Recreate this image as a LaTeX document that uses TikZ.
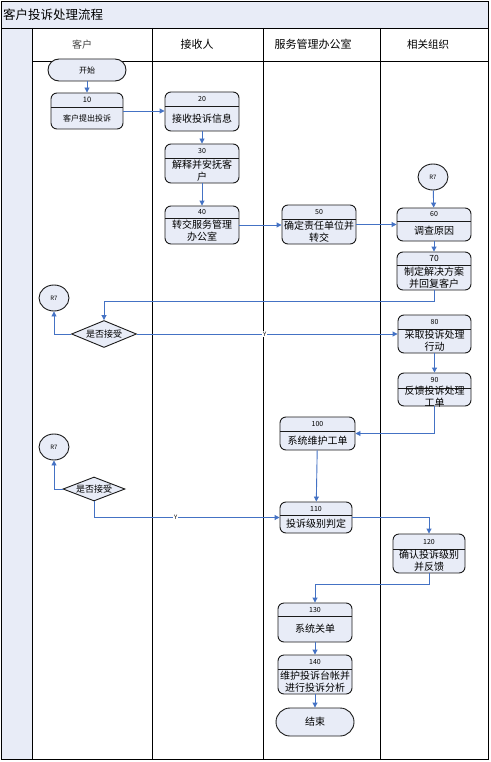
\documentclass[tikz,border=0pt]{standalone}
\usepackage{fontspec}
\setmainfont{Noto Sans CJK SC}
\usetikzlibrary{shapes.geometric,arrows.meta,calc}
\definecolor{lav}{HTML}{E8ECF7}
\definecolor{flow}{HTML}{4472C4}
\definecolor{edgec}{HTML}{1A1A1A}
\tikzset{
  proc/.style={draw=edgec, fill=lav, rounded corners=6pt, line width=0.9pt, inner sep=0pt},
  term/.style={draw=edgec, fill=lav, line width=0.9pt, inner sep=0pt},
  numtxt/.style={font=\fontsize{7}{8}\selectfont, inner sep=0pt},
  bodytxt/.style={font=\fontsize{10}{12}\selectfont, align=center, inner sep=0pt},
  smalltxt/.style={font=\fontsize{6}{7}\selectfont, inner sep=0pt},
  hdr/.style={font=\fontsize{11}{12}\selectfont, inner sep=0pt},
  flowarrow/.style={draw=flow, line width=0.9pt, -{Triangle[length=5pt,width=5pt]}},
  ylabel/.style={font=\fontsize{6}{7}\selectfont, fill=white, inner sep=1pt},
  frameline/.style={draw=black, line width=0.9pt},
  connector/.style={ellipse, draw=edgec, fill=lav, line width=0.9pt, minimum width=30pt, minimum height=26pt, inner sep=0pt, font=\fontsize{6}{7}\selectfont},
  decision/.style={diamond, draw=edgec, fill=lav, line width=0.9pt, inner sep=0pt},
}
% name, x1, y1, x2, y2, ydiv, number, text
\newcommand\procbox[8]{%
  \node[proc, minimum width={#4-#2}, minimum height={#5-#3}] (#1) at ({(#2+#4)/2},{(#3+#5)/2}) {};
  \draw[edgec, line width=0.7pt] (#2,#6) -- (#4,#6);
  \node[numtxt] (#1num) at ({(#2+#4)/2},{(#3+#6)/2}) {#7};
  \node[bodytxt] (#1txt) at ({(#2+#4)/2},{(#6+#5)/2}) {#8};
}
\begin{document}
\begin{tikzpicture}[x=1pt,y=-1pt]
\useasboundingbox (0,0) rectangle (490,762);
% frame
\fill[lav] (1,1) rectangle (488,28);
\fill[lav] (1,28) rectangle (32,759);
\draw[frameline] (1,1) rectangle (488,759);
\draw[frameline] (1,28) -- (488,28);
\draw[frameline] (32,61) -- (488,61);
\draw[frameline] (32,28) -- (32,759);
\draw[frameline] (152,28) -- (152,759);
\draw[frameline] (263,28) -- (263,759);
\draw[frameline] (380,28) -- (380,759);
\node[font=\fontsize{12.5}{13}\selectfont, anchor=west, inner sep=0pt] (title) at (3,15) {客户投诉处理流程};
\node[hdr, font=\fontsize{10}{11}\selectfont, text=black!75] (h1) at (82,45) {客户};
\node[hdr] (h2) at (197,44) {接收人};
\node[hdr] (h3) at (313,44) {服务管理办公室};
\node[hdr, font=\fontsize{10.5}{11}\selectfont] (h4) at (428,45) {相关组织};

% nodes
\node[term, rounded corners=11pt, minimum width=78pt, minimum height=22pt, font=\fontsize{8}{9}\selectfont] (start) at (87,70) {开始};
\procbox{n10}{51}{93}{123}{129}{107}{\fontsize{7.5}{8}\selectfont 10}{\fontsize{8}{9}\selectfont 客户提出投诉}
\procbox{n20}{165}{92}{239}{131}{106}{20}{接收投诉信息}
\procbox{n30}{165}{144}{239}{183}{158}{30}{解释并安抚客\\户}
\procbox{n40}{165}{206}{239}{244}{218}{40}{转交服务管理\\办公室}
\procbox{n50}{282}{205}{356}{244}{219}{50}{确定责任单位并\\转交}
\node[connector] (r7a) at (433,177) {R7};
\procbox{n60}{397}{208}{471}{241}{221}{60}{调查原因}
\procbox{n70}{397}{252}{471}{290}{265}{\fontsize{8.5}{9}\selectfont 70}{制定解决方案\\并回复客户}
\node[connector] (r7b) at (54,298) {R7};
\node[decision, minimum width=65pt, minimum height=27pt] (d1) at (104,334) {};
\node[font=\fontsize{9}{10}\selectfont, inner sep=0pt] (d1t) at (d1) {是否接受};
\procbox{n80}{398}{315}{471}{353}{329}{80}{采取投诉处理\\行动}
\procbox{n90}{398}{373}{471}{406}{388}{90}{反馈投诉处理\\工单}
\procbox{n100}{280}{417}{355}{450}{431}{100}{系统维护工单}
\node[connector] (r7c) at (54,447) {R7};
\node[decision, minimum width=62pt, minimum height=24pt] (d2) at (94,489) {};
\node[font=\fontsize{9}{10}\selectfont, inner sep=0pt] (d2t) at (d2) {是否接受};
\procbox{n110}{280}{502}{352}{533}{515}{110}{投诉级别判定}
\procbox{n120}{393}{534}{465}{573}{549}{120}{确认投诉级别\\并反馈}
\procbox{n130}{278}{603}{352}{642}{616}{130}{系统关单}
\procbox{n140}{278}{655}{352}{694}{669}{140}{维护投诉台帐并\\进行投诉分析}
\node[term, rounded corners=14pt, minimum width=78pt, minimum height=28pt, font=\fontsize{10}{11}\selectfont] (stop) at (315,722) {结束};

% connectors
\coordinate (c70a) at (434,301);
\coordinate (c70b) at (104,301);
\coordinate (c120a) at (429,584);
\coordinate (c120b) at (315,584);
\draw[flowarrow] (start) -- (n10);
\draw[flowarrow] (n10.east) -- (n10.east -| n20.west);
\draw[flowarrow] (n20) -- (n30);
\draw[flowarrow] (n30) -- (n40);
\draw[flowarrow] (n40.east) -- (n40.east -| n50.west);
\draw[flowarrow] (n50.east) -- (n50.east -| n60.west);
\draw[flowarrow] (r7a) -- (n60);
\draw[flowarrow] (n60) -- (n70);
\draw[flowarrow] (n70.south) -- (c70a) -- (c70b) -- (d1.north);
\draw[flowarrow] (d1.west) -| (r7b.south);
\draw[flowarrow] (d1.east) -- node[ylabel, pos=0.49] (y1) {Y} (d1.east -| n80.west);
\draw[flowarrow] (n80) -- (n90);
\draw[flowarrow] (n90.south) |- (n100.east);
\draw[flowarrow] (n100) -- (n110);
\draw[flowarrow] (d2.west) -| (r7c.south);
\draw[flowarrow] (d2.south) |- node[ylabel, pos=0.72] (y2) {Y} (n110.west);
\draw[flowarrow] (n110.east) -| (n120.north);
\draw[flowarrow] (n120.south) -- (c120a) -- (c120b) -- (n130.north);
\draw[flowarrow] (n130) -- (n140);
\draw[flowarrow] (n140) -- (stop);
\end{tikzpicture}
\end{document}
